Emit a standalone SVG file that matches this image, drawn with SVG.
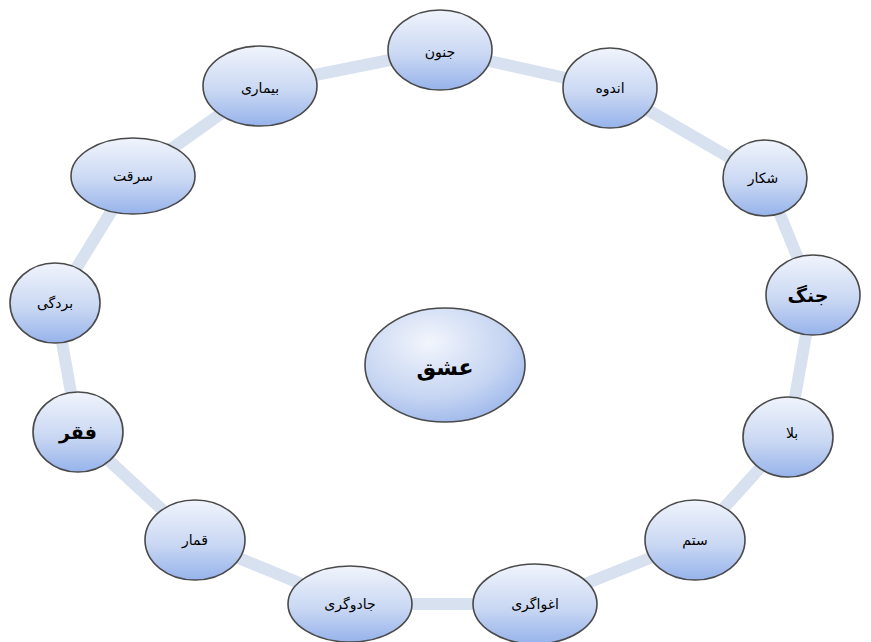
<svg xmlns="http://www.w3.org/2000/svg" width="871" height="642" viewBox="0 0 871 642">
<defs>
<linearGradient id="g" x1="0" y1="0" x2="0" y2="1">
<stop offset="0" stop-color="#f0f4fc"/>
<stop offset="0.55" stop-color="#cad8f3"/>
<stop offset="1" stop-color="#96b3eb"/>
</linearGradient>
<radialGradient id="gc" cx="0.4" cy="0.3" r="0.8">
<stop offset="0" stop-color="#f2f5fc"/>
<stop offset="0.6" stop-color="#c6d5f2"/>
<stop offset="1" stop-color="#96b2ea"/>
</radialGradient>
</defs>
<style>
.n{fill:url(#g);stroke:#4a4a4a;stroke-width:1.6}
.c{fill:url(#gc);stroke:#4a4a4a;stroke-width:1.6}
.t{font-family:"DejaVu Sans",sans-serif;font-size:14px;fill:#000;text-anchor:middle;dominant-baseline:central}
.b{font-size:19px;font-weight:bold}
.cb{font-size:22px;font-weight:bold}
.conn{fill:none;stroke:#d8e1f0;stroke-width:12;stroke-linejoin:round}
</style>
<rect width="871" height="642" fill="#fff"/>
<g id="connectors">
<polyline class="conn" points="440,50 610,88 765,178 813,295 788,437 695,540 535,604 350,604 195,540 78,432 55,303 133,176 260,86 440,50"/>
</g>
<g id="n1"><ellipse class="n" cx="440" cy="50" rx="52" ry="40"/><text class="t" x="440" y="52">جنون</text></g>
<g id="n2"><ellipse class="n" cx="610" cy="88" rx="47" ry="40"/><text class="t" x="610" y="88">اندوه</text></g>
<g id="n3"><ellipse class="n" cx="765" cy="178" rx="42" ry="38"/><text class="t" x="763" y="178">شکار</text></g>
<g id="n4"><ellipse class="n" cx="813" cy="295" rx="47" ry="40"/><text class="t b" x="808" y="295">جنگ</text></g>
<g id="n5"><ellipse class="n" cx="788" cy="437" rx="45" ry="40"/><text class="t" x="792" y="433">بلا</text></g>
<g id="n6"><ellipse class="n" cx="695" cy="540" rx="50" ry="40"/><text class="t" x="695" y="540">ستم</text></g>
<g id="n7"><ellipse class="n" cx="535" cy="604" rx="62" ry="40"/><text class="t" x="535" y="604">اغواگری</text></g>
<g id="n8"><ellipse class="n" cx="350" cy="604" rx="62" ry="38"/><text class="t" x="350" y="604">جادوگری</text></g>
<g id="n9"><ellipse class="n" cx="195" cy="540" rx="50" ry="40"/><text class="t" x="195" y="540">قمار</text></g>
<g id="n10"><ellipse class="n" cx="78" cy="432" rx="45" ry="40"/><text class="t b" x="78" y="432">فقر</text></g>
<g id="n11"><ellipse class="n" cx="55" cy="303" rx="45" ry="40"/><text class="t" x="55" y="303">بردگی</text></g>
<g id="n12"><ellipse class="n" cx="133" cy="176" rx="62" ry="38"/><text class="t" x="133" y="176">سرقت</text></g>
<g id="n13"><ellipse class="n" cx="260" cy="86" rx="57" ry="40"/><text class="t" x="260" y="88">بیماری</text></g>
<g id="center"><ellipse class="c" cx="445" cy="365" rx="80" ry="57"/><text class="t cb" x="445" y="367">عشق</text></g>
</svg>
